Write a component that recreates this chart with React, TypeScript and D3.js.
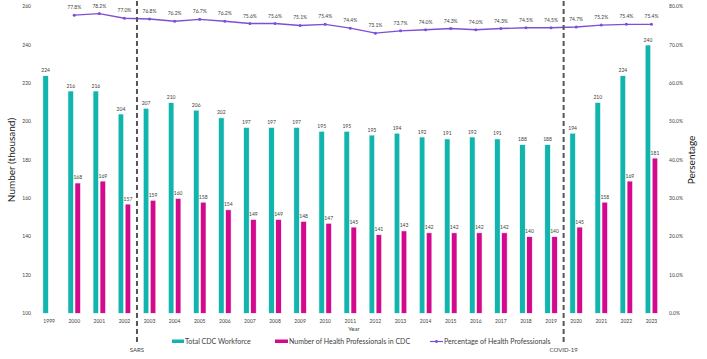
import React from "react";
import * as d3 from "d3";

const years = ["1999","2000","2001","2002","2003","2004","2005","2006","2007","2008","2009","2010","2011","2012","2013","2014","2015","2016","2017","2018","2019","2020","2021","2022","2023"];
const totalWorkforce = [224,216,216,204,207,210,206,202,197,197,197,195,195,193,194,192,191,192,191,188,188,194,210,224,240];
const healthPros: (number | null)[] = [null,168,169,157,159,160,158,154,149,149,148,147,145,141,143,142,142,142,142,140,140,145,158,169,181];
const percentHP: (number | null)[] = [null,77.8,78.2,77.0,76.8,76.2,76.7,76.2,75.6,75.6,75.1,75.4,74.4,73.1,73.7,74.0,74.3,74.0,74.3,74.5,74.5,74.7,75.2,75.4,75.4];
const leftTicks = [100,120,140,160,180,200,220,240,260];
const rightTicks = [0,10,20,30,40,50,60,70,80];
const events = [{ after: "2002", label: "SARS" }, { after: "2019", label: "COVID-19" }];

const TEAL = "#12B5AD";
const MAGENTA = "#D40A8E";
const PURPLE = "#7D4FD6";
const TXT = "#404040";
const FONT = "Lato, 'Open Sans', sans-serif";

export default function App() {
  const W = 707, H = 359;
  const x = d3.scaleBand<string>().domain(years).range([36.6, 664]).padding(0);
  const yL = d3.scaleLinear().domain([100, 260]).range([313.3, 6.7]);
  const yR = d3.scaleLinear().domain([0, 80]).range([313.3, 6.7]);
  const bw = 5.6;
  const off = 3.5;
  const cx = (y: string) => (x(y) as number) + x.bandwidth() / 2;

  const linePts = years
    .map((y, i) => ({ y, v: percentHP[i] }))
    .filter((d) => d.v != null) as { y: string; v: number }[];
  const line = d3.line<{ y: string; v: number }>().x((d) => cx(d.y)).y((d) => yR(d.v));

  return (
    <svg width={W} height={H} style={{ position: "absolute", left: 0, top: 0, background: "#fff" }} fontFamily={FONT}>
      {/* left axis ticks */}
      {leftTicks.map((t) => (
        <text key={"l" + t} x={31} y={yL(t)} dy="0.35em" textAnchor="end" fontSize={5} fill={TXT}>{t}</text>
      ))}
      {rightTicks.map((t) => (
        <text key={"r" + t} x={669} y={yR(t)} dy="0.35em" textAnchor="start" fontSize={5} fill={TXT}>{t.toFixed(1) + "%"}</text>
      ))}
      {/* x tick labels */}
      {years.map((y) => (
        <text key={"x" + y} x={cx(y)} y={321} dy="0.35em" textAnchor="middle" fontSize={5} fill={TXT}>{y}</text>
      ))}
      {/* bars */}
      {years.map((y, i) => (
        <g key={"b" + y}>
          <rect x={cx(y) - off - bw / 2} y={yL(totalWorkforce[i])} width={bw} height={yL(100) - yL(totalWorkforce[i])} fill={TEAL} stroke="#ffffff" strokeWidth={0.6} />
          <text x={cx(y) - off} y={yL(totalWorkforce[i]) - 3.5} textAnchor="middle" fontSize={5} fill={TXT}>{totalWorkforce[i]}</text>
          {healthPros[i] != null && (
            <>
              <rect x={cx(y) + off - bw / 2} y={yL(healthPros[i] as number)} width={bw} height={yL(100) - yL(healthPros[i] as number)} fill={MAGENTA} stroke="#ffffff" strokeWidth={0.6} />
              <text x={cx(y) + off} y={yL(healthPros[i] as number) - 3.5} textAnchor="middle" fontSize={5} fill={TXT}>{healthPros[i]}</text>
            </>
          )}
        </g>
      ))}
      {/* percentage line */}
      <path d={line(linePts) || ""} fill="none" stroke={PURPLE} strokeWidth={1.4} />
      {linePts.map((d) => (
        <g key={"p" + d.y}>
          <circle cx={cx(d.y)} cy={yR(d.v)} r={1.5} fill={PURPLE} />
          <text x={cx(d.y)} y={yR(d.v) - 6} textAnchor="middle" fontSize={5} fill={TXT}>{d.v.toFixed(1) + "%"}</text>
        </g>
      ))}
      {/* event lines */}
      {events.map((e) => {
        const i = years.indexOf(e.after);
        const xx = (cx(years[i]) + cx(years[i + 1])) / 2;
        return (
          <g key={e.label}>
            <line x1={xx} x2={xx} y1={1} y2={343} stroke="#555555" strokeWidth={2} strokeDasharray="5,3" />
            <text x={xx} y={350} dy="0.35em" textAnchor="middle" fontSize={6} fill={TXT}>{e.label}</text>
          </g>
        );
      })}
      {/* axis titles */}
      <text x={354} y={329} dy="0.35em" textAnchor="middle" fontSize={6} fill={TXT}>Year</text>
      <text transform={`translate(15,${yL(180)}) rotate(-90)`} textAnchor="middle" fontSize={10} fill="#222">Number (thousand)</text>
      <text transform={`translate(695,${yL(180)}) rotate(-90)`} textAnchor="middle" fontSize={10} fill="#222">Persentage</text>
      {/* legend */}
      <rect x={172} y={339.5} width={12} height={3.5} fill={TEAL} />
      <text x={185} y={341.5} dy="0.35em" fontSize={7} fill={TXT}>Total CDC Workforce</text>
      <rect x={275} y={339.5} width={13} height={3.5} fill={MAGENTA} />
      <text x={289} y={341.5} dy="0.35em" fontSize={7} fill={TXT}>Number of Health Professionals in CDC</text>
      <line x1={430} x2={443} y1={341.5} y2={341.5} stroke={PURPLE} strokeWidth={1.2} />
      <circle cx={436.5} cy={341.5} r={1.4} fill={PURPLE} />
      <text x={444} y={341.5} dy="0.35em" fontSize={7} fill={TXT}>Percentage of Health Professionals</text>
    </svg>
  );
}
